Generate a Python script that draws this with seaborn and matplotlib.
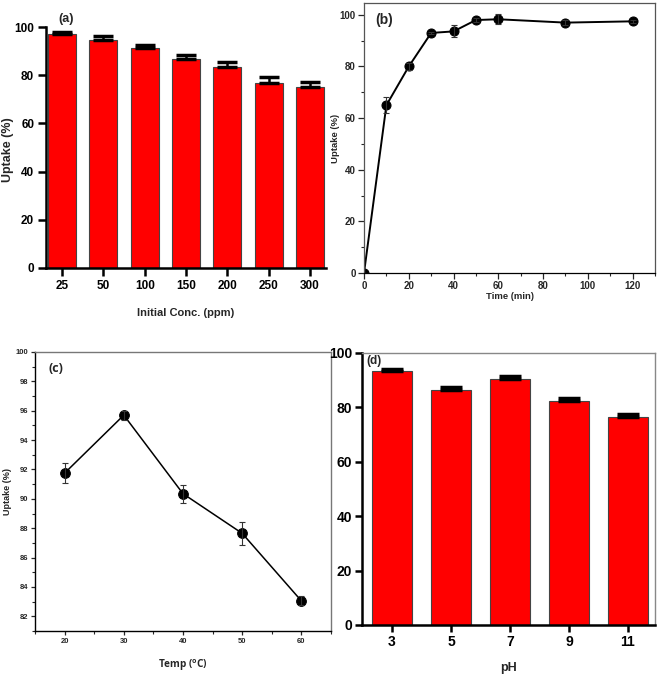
import matplotlib
matplotlib.use("Agg")
import matplotlib.pyplot as plt
from matplotlib.ticker import MultipleLocator
import seaborn as sns
import pandas as pd
import numpy as np

sns.set_style("ticks")
plt.rcParams['font.family'] = ['Liberation Sans', 'DejaVu Sans']

# ---- data ----
conc_labels = ["25", "50", "100", "150", "200", "250", "300"]
conc_uptake = [97.0, 94.7, 91.3, 86.7, 83.4, 76.7, 75.0]
conc_err = [1.0, 1.5, 1.2, 1.5, 2.0, 2.5, 2.0]

time_min = [0, 10, 20, 30, 40, 50, 60, 90, 120]
time_uptake = [0.0, 65.0, 80.0, 93.0, 93.6, 98.0, 98.3, 97.0, 97.5]
time_err = [0.0, 3.0, 1.5, 0.5, 2.3, 0.6, 2.0, 1.0, 0.6]

temp_c = [20, 30, 40, 50, 60]
temp_uptake = [91.75, 95.7, 90.35, 87.65, 83.05]
temp_err = [0.7, 0.3, 0.6, 0.8, 0.3]

ph_labels = ["3", "5", "7", "9", "11"]
ph_uptake = [93.5, 86.3, 90.4, 82.4, 76.5]
ph_err = [0.5, 1.2, 1.2, 1.2, 1.2]

W, H = 661, 676
fig = plt.figure(figsize=(W / 100, H / 100), dpi=100)


def add_ax(l, r, t, b):
    return fig.add_axes([l / W, 1 - b / H, (r - l) / W, (b - t) / H])


def bold_ticks(ax):
    for lab in ax.get_xticklabels() + ax.get_yticklabels():
        lab.set_fontweight("bold")


# ---- (a) ----
axa = add_ax(46, 326, 27, 268)
dfa = pd.DataFrame({"conc": conc_labels, "uptake": conc_uptake})
sns.barplot(data=dfa, x="conc", y="uptake", color="#ff0000", saturation=1,
            width=0.68, edgecolor="#444444", linewidth=0.8, ax=axa, errorbar=None)
xa = np.arange(len(conc_labels))
axa.errorbar(xa, conc_uptake, yerr=[np.zeros(len(conc_err)), conc_err], fmt="none",
             ecolor="black", elinewidth=1.8, capsize=7, capthick=2.5)
axa.set_xlim(-0.39, 6.39)
axa.set_ylim(0, 100)
axa.yaxis.set_major_locator(MultipleLocator(20))
sns.despine(ax=axa)
for s in ["left", "bottom"]:
    axa.spines[s].set_linewidth(1.8)
    axa.spines[s].set_color("black")
axa.tick_params(width=1.8, length=6, labelsize=8.5, colors="black", pad=2.5)
bold_ticks(axa)
axa.set_xlabel("Initial Conc. (ppm)", fontsize=8, fontweight="bold")
axa.set_ylabel("Uptake (%)", fontsize=9, fontweight="bold")
axa.xaxis.set_label_coords(0.5, -0.166)
axa.yaxis.set_label_coords(-0.114, 0.49)
axa.text(-0.1, 101, "(a)", fontsize=9, fontweight="bold", ha="left", va="bottom")

# ---- (b) ----
axb = add_ax(364, 655, 3, 273)
dfb = pd.DataFrame({"time": time_min, "uptake": time_uptake})
sns.lineplot(data=dfb, x="time", y="uptake", color="black", linewidth=1.4,
             marker="o", markersize=6.5, markeredgecolor="black", ax=axb)
axb.errorbar(time_min, time_uptake, yerr=time_err, fmt="none", ecolor="#333333",
             elinewidth=0.8, capsize=2.5, capthick=0.8)
axb.set_xlim(0, 130)
axb.set_ylim(0, 104.6)
axb.xaxis.set_major_locator(MultipleLocator(20))
axb.xaxis.set_minor_locator(MultipleLocator(10))
axb.yaxis.set_major_locator(MultipleLocator(20))
axb.yaxis.set_minor_locator(MultipleLocator(10))
for s in axb.spines.values():
    s.set_color("#555555")
    s.set_linewidth(0.9)
axb.spines["bottom"].set_color("black")
axb.tick_params(which="major", length=4, width=0.9, labelsize=7, pad=2)
axb.tick_params(which="minor", length=2.5, width=0.8)
bold_ticks(axb)
axb.set_xlabel("Time (min)", fontsize=6.8, fontweight="bold")
axb.set_ylabel("Uptake (%)", fontsize=6.8, fontweight="bold")
axb.xaxis.set_label_coords(0.5, -0.07)
axb.yaxis.set_label_coords(-0.082, 0.5)
axb.text(5, 98.2, "(b)", fontsize=10, fontweight="bold", ha="left", va="center")

# ---- (c) ----
axc = add_ax(35, 331, 352, 631)
dfc = pd.DataFrame({"temp": temp_c, "uptake": temp_uptake})
sns.lineplot(data=dfc, x="temp", y="uptake", color="black", linewidth=1.1,
             marker="o", markersize=7, markeredgecolor="black", ax=axc)
axc.errorbar(temp_c, temp_uptake, yerr=temp_err, fmt="none", ecolor="#333333",
             elinewidth=0.8, capsize=2.5, capthick=0.8)
axc.set_xlim(15, 65)
axc.set_ylim(81, 100)
axc.xaxis.set_major_locator(MultipleLocator(10))
axc.xaxis.set_minor_locator(MultipleLocator(5))
axc.yaxis.set_major_locator(MultipleLocator(2))
axc.yaxis.set_minor_locator(MultipleLocator(1))
for s in axc.spines.values():
    s.set_color("#777777")
    s.set_linewidth(1.0)
axc.spines["bottom"].set_color("black")
axc.spines["left"].set_color("black")
axc.tick_params(which="major", length=3, width=0.9, labelsize=5.5, pad=2)
axc.tick_params(which="minor", length=2, width=0.8)
bold_ticks(axc)
axc.set_xlabel("Temp ($^{\\mathregular{o}}$C)", fontsize=7.2, fontweight="bold",
              family=["Open Sans", "DejaVu Sans"])
axc.set_ylabel("Uptake (%)", fontsize=6.5, fontweight="bold")
axc.xaxis.set_label_coords(0.5, -0.097)
axc.yaxis.set_label_coords(-0.078, 0.5)
axc.text(17.3, 98.9, "(c)", fontsize=9, fontweight="bold", ha="left", va="center",
         family="Open Sans")

# ---- (d) ----
axd = add_ax(362, 655, 353, 625)
dfd = pd.DataFrame({"ph": ph_labels, "uptake": ph_uptake})
sns.barplot(data=dfd, x="ph", y="uptake", color="#ff0000", saturation=1,
            width=0.68, edgecolor="#444444", linewidth=0.8, ax=axd, errorbar=None)
xd = np.arange(len(ph_labels))
axd.errorbar(xd, ph_uptake, yerr=[np.zeros(len(ph_err)), ph_err], fmt="none",
             ecolor="black", elinewidth=1.8, capsize=8, capthick=2.5)
axd.set_xlim(-0.51, 4.46)
axd.set_ylim(0, 100)
axd.yaxis.set_major_locator(MultipleLocator(20))
for s in axd.spines.values():
    s.set_color("#888888")
    s.set_linewidth(1.0)
for s in ["left", "bottom"]:
    axd.spines[s].set_color("black")
    axd.spines[s].set_linewidth(1.8)
axd.tick_params(width=1.8, length=5, labelsize=10, colors="black", pad=2)
bold_ticks(axd)
axd.set_xlabel("pH", fontsize=9, fontweight="bold")
axd.xaxis.set_label_coords(0.5, -0.136)
axd.set_ylabel("")
axd.text(-0.44, 97, "(d)", fontsize=8.5, fontweight="bold", ha="left", va="center")

fig.savefig("out.png", dpi=100, facecolor="white")
